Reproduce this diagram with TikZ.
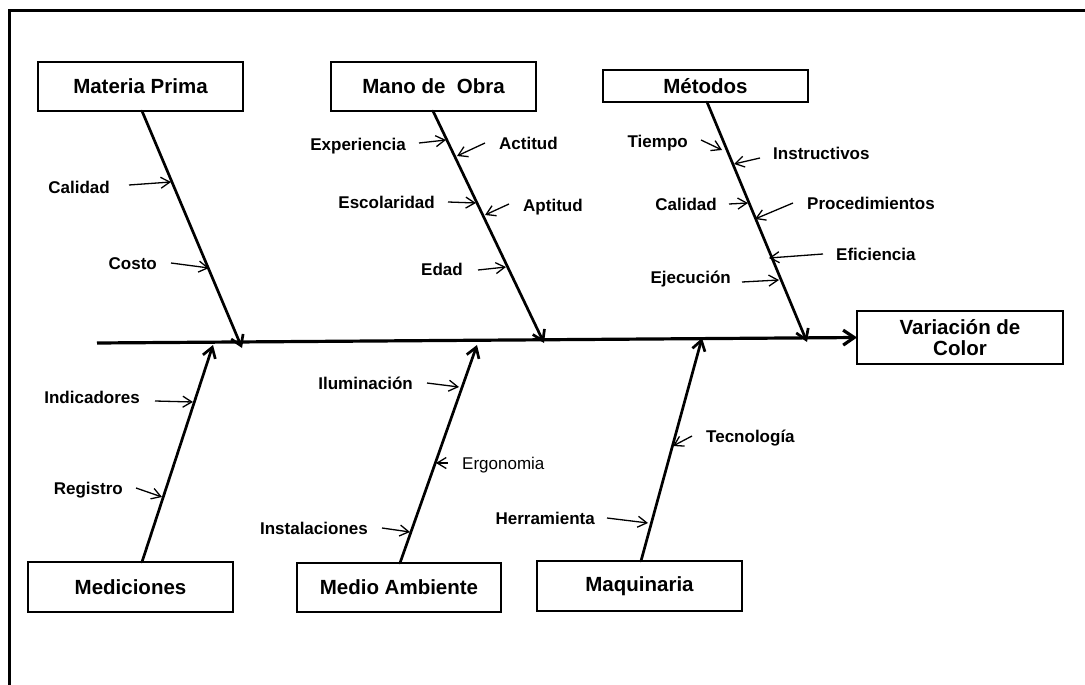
\documentclass[tikz,border=0pt]{standalone}
\usepackage{fontspec}
\setmainfont{Liberation Sans}
\usetikzlibrary{arrows.meta}

\tikzset{
  catbox/.style={draw, line width=1.5pt, inner sep=0pt, outer sep=0pt,
    minimum width=205pt, minimum height=49pt, align=center,
    font=\bfseries\fontsize{20.5}{21.5}\selectfont},
  cause/.style={inner sep=0pt, text height=12pt, text depth=0pt,
    font=\bfseries\fontsize{17}{20}\selectfont},
  causeplain/.style={cause, font=\fontsize{17}{20}\selectfont},
  bone/.style={line width=2.7pt, line cap=round,
    -{Straight Barb[length=10pt,width=13pt]}},
  spine/.style={line width=3.2pt, -{Straight Barb[length=11pt,width=15pt]}},
  sub/.style={line width=1.3pt, -{Straight Barb[length=9pt,width=11pt]}},
  frame/.style={line width=3.3pt}
}

\begin{document}
\begin{tikzpicture}[x=1pt,y=-1pt]
\useasboundingbox (0,0) rectangle (1085,685);

% outer frame (top and left edges)
\draw[frame] (9.5,690) -- (9.5,10.5) -- (1090,10.5);

% category boxes and effect box
\node[catbox] (mp) at (140.5,86.5) {Materia Prima};
\node[catbox] (mo) at (433.5,86.5) {Mano de~ Obra};
\node[catbox, minimum height=32pt] (me) at (705.5,86) {Métodos};
\node[catbox, minimum width=206pt, minimum height=53pt] (ef) at (960,337.5) {Variación de\\Color};
\node[catbox, minimum height=50pt] (md) at (130.5,587) {Mediciones};
\node[catbox, minimum width=204pt] (ma) at (399,587.5) {Medio Ambiente};
\node[catbox, minimum height=50pt] (mq) at (639.5,586) {Maquinaria};

% spine
\coordinate (tail) at (97,343);
\draw[spine] (tail) -- (ef.west);

% bones
\coordinate (mpE) at (242,348);
\coordinate (moE) at (544,343);
\coordinate (meE) at (807,342);
\coordinate (mdE) at (213,345);
\coordinate (maE) at (477,345);
\coordinate (mqE) at (702,338);
\draw[bone] ([xshift=1.5pt]mp.south) -- (mpE);
\draw[bone] ([xshift=-0.5pt]mo.south) -- (moE);
\draw[bone] ([xshift=1.5pt]me.south) -- (meE);
\draw[bone] ([xshift=11.5pt]md.north) -- (mdE);
\draw[bone] ([xshift=1pt]ma.north) -- (maE);
\draw[bone] ([xshift=1.5pt]mq.north) -- (mqE);

% Materia Prima causes
\node[cause, anchor=east] (a1) at (110,187) {Calidad};
\coordinate (a1t) at (171,182);
\draw[sub] ([shift={(19,-2)}]a1.east) -- (a1t);
\node[cause, anchor=east] (a2) at (157,263) {Costo};
\coordinate (a2t) at (209,268);
\draw[sub] ([shift={(14,0)}]a2.east) -- (a2t);

% Mano de Obra causes
\node[cause, anchor=east] (b1) at (406,144) {Experiencia};
\coordinate (b1t) at (446,140);
\draw[sub] ([shift={(13,-1)}]b1.east) -- (b1t);
\node[cause, anchor=west] (b2) at (499,143) {Actitud};
\coordinate (b2t) at (457,156);
\draw[sub] ([shift={(-14,0)}]b2.west) -- (b2t);
\node[cause, anchor=east] (b3) at (435,202) {Escolaridad};
\coordinate (b3t) at (476,203);
\draw[sub] ([shift={(13,0)}]b3.east) -- (b3t);
\node[cause, anchor=west] (b4) at (523,205) {Aptitud};
\coordinate (b4t) at (485,215);
\draw[sub] ([shift={(-14,-1)}]b4.west) -- (b4t);
\node[cause, anchor=east] (b5) at (463,269) {Edad};
\coordinate (b5t) at (506,267);
\draw[sub] ([shift={(15,1)}]b5.east) -- (b5t);

% Métodos causes
\node[cause, anchor=east] (c1) at (688,141) {Tiempo};
\coordinate (c1t) at (722,150);
\draw[sub] ([shift={(13,-1)}]c1.east) -- (c1t);
\node[cause, anchor=west] (c2) at (773,153) {Instructivos};
\coordinate (c2t) at (734,164);
\draw[sub] ([shift={(-13,5)}]c2.west) -- (c2t);
\node[cause, anchor=east] (c3) at (717,204) {Calidad};
\coordinate (c3t) at (748,203);
\draw[sub] ([shift={(12,0)}]c3.east) -- (c3t);
\node[cause, anchor=west] (c4) at (807,203) {Procedimientos};
\coordinate (c4t) at (755,219);
\draw[sub] ([shift={(-14,0)}]c4.west) -- (c4t);
\node[cause, anchor=west] (c5) at (836,254) {Eficiencia};
\coordinate (c5t) at (769,258);
\draw[sub] ([shift={(-13,0)}]c5.west) -- (c5t);
\node[cause, anchor=east] (c6) at (731,277) {Ejecución};
\coordinate (c6t) at (779,280);
\draw[sub] ([shift={(11,5)}]c6.east) -- (c6t);

% Mediciones causes
\node[cause, anchor=east] (d1) at (140,397) {Indicadores};
\coordinate (d1t) at (193,402);
\draw[sub] ([shift={(15,4)}]d1.east) -- (d1t);
\node[cause, anchor=east] (d2) at (123,488) {Registro};
\coordinate (d2t) at (162,497);
\draw[sub] ([shift={(13,0)}]d2.east) -- (d2t);

% Medio Ambiente causes
\node[cause, anchor=east] (e1) at (413,383) {Iluminación};
\coordinate (e1t) at (459,387);
\draw[sub] ([shift={(14,0)}]e1.east) -- (e1t);
\node[causeplain, anchor=west] (e2) at (462,463) {Ergonomia};
\coordinate (e2t) at (436,463);
\draw[sub] ([shift={(-14,0)}]e2.west) -- (e2t);
\node[cause, anchor=east] (e3) at (368,528) {Instalaciones};
\coordinate (e3t) at (410,532);
\draw[sub] ([shift={(14,0)}]e3.east) -- (e3t);

% Maquinaria causes
\node[cause, anchor=west] (f1) at (706,436) {Tecnología};
\coordinate (f1t) at (673,446);
\draw[sub] ([shift={(-14,0)}]f1.west) -- (f1t);
\node[cause, anchor=east] (f2) at (595,518) {Herramienta};
\coordinate (f2t) at (648,523);
\draw[sub] ([shift={(12,0)}]f2.east) -- (f2t);
\end{tikzpicture}
\end{document}
